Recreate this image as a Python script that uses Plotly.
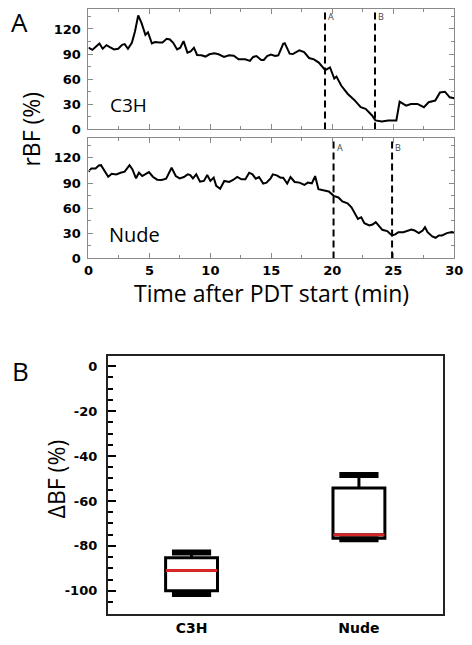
import plotly.graph_objects as go

# ---------------- data ----------------
c3h_t = [0, 0.32, 0.58, 0.9, 1.17, 1.48, 1.75, 2.1, 2.44, 2.76,
         2.97, 3.24, 3.56, 3.82, 4.08, 4.35, 4.67, 4.88, 5.2, 5.46,
         5.81, 6.07, 6.42, 6.68, 6.95, 7.27, 7.53, 7.8, 8.12, 8.38,
         8.65, 8.91, 9.26, 9.6, 9.92, 10.32, 10.67, 11.12, 11.52, 11.92,
         12.31, 12.85, 13.24, 13.51, 13.78, 14.17, 14.38, 14.65, 14.97,
         15.31, 15.57, 15.97, 16.1, 16.5, 16.76, 17.29, 17.69, 18.09, 18.49,
         18.89, 19.42, 19.81, 20.16, 20.34, 20.74, 21.27, 21.8, 22.33, 22.73,
         23.26, 23.53, 24.06, 24.59, 25.25, 25.52, 26.05, 26.45, 26.98, 27.51,
         27.9, 28.44, 28.83, 29.23, 29.63, 30]
c3h_v = [97.6, 95.0, 98.4, 102.7, 96.4, 100.7, 98.4, 95.6, 96.4, 101.1,
         101.9, 96.4, 103.5, 117.3, 136.3, 127.2, 113.0, 116.1, 102.7, 104.3,
         103.9, 103.9, 108.2, 107.5, 103.5, 95.6, 97.6, 105.5, 91.7, 93.3,
         97.6, 88.9, 88.5, 87.0, 89.7, 90.9, 89.7, 86.6, 88.5, 88.1,
         83.8, 83.8, 81.8, 86.6, 87.7, 83.0, 83.0, 87.7, 89.3,
         87.7, 88.5, 102.3, 103.0, 90.5, 90.0, 94.4, 92.4, 85.3, 83.7,
         79.8, 70.7, 74.0, 60.8, 63.2, 52.1, 42.3, 35.2, 26.5, 24.5,
         16.6, 10.7, 9.5, 10.7, 10.7, 33.2, 28.4, 30.4, 30.4, 26.5,
         32.4, 34.4, 44.2, 45.0, 38.3, 37.1]

nude_t = [0, 0.24, 0.58, 0.85, 1.03, 1.3, 1.62, 1.91, 2.28, 2.63,
          2.97, 3.37, 3.61, 3.9, 4.14, 4.41, 4.75, 4.96, 5.3, 5.64,
          6.0, 6.37, 6.82, 7.16, 7.48, 7.83, 8.14, 8.35, 8.57, 8.84,
          9.15, 9.47, 9.74, 10.0, 10.27, 10.48, 10.8, 11.14, 11.54, 11.86,
          12.2, 12.55, 12.87, 13.18, 13.45, 13.72, 13.99, 14.33, 14.6, 14.94,
          15.12, 15.44, 15.76, 15.97, 16.3, 16.57, 16.91, 17.31, 17.71, 17.98,
          18.32, 18.59, 18.86, 19.31, 19.71, 20.11, 20.5, 20.82, 21.25, 21.57,
          21.89, 22.1, 22.37, 22.63, 23.03, 23.3, 23.56, 23.83, 24.1, 24.5,
          24.89, 25.16, 25.42, 25.82, 26.14, 26.48, 26.74, 27.09, 27.41, 27.6,
          27.81, 28.2, 28.47, 28.74, 29.0, 29.4, 29.8, 30.0]
nude_v = [103.5, 107.4, 107.4, 110.9, 111.3, 104.3, 97.6, 101.1, 100.3, 102.3,
          103.5, 111.3, 106.2, 95.6, 102.3, 98.4, 101.1, 103.1, 97.2, 94.0,
          93.6, 95.2, 108.2, 98.4, 95.6, 97.2, 100.3, 99.5, 95.6, 100.3,
          91.7, 92.5, 99.5, 92.5, 96.4, 86.6, 83.1, 92.5, 91.3, 93.6,
          97.2, 94.4, 94.4, 102.3, 100.3, 95.2, 97.2, 89.3, 90.5, 95.6,
          100.3, 99.2, 96.4, 96.4, 89.3, 97.2, 91.3, 90.5, 87.7, 90.5,
          89.7, 98.3, 82.6, 81.4, 79.9, 74.7, 72.8, 68.1, 65.7, 61.0,
          53.1, 47.2, 49.2, 42.1, 39.3, 40.5, 43.3, 39.3, 34.2, 32.6,
          27.5, 28.7, 31.4, 31.4, 33.4, 34.6, 33.4, 30.2, 33.4, 37.3,
          31.4, 26.3, 24.7, 27.5, 27.5, 30.2, 31.4, 30.6]

c3h_marks = [19.4, 23.5]     # A, B
nude_marks = [20.1, 24.9]    # A, B
mark_labels = ["A", "B"]

x_ticks = [0, 5, 10, 15, 20, 25, 30]
y_ticks_top = [0, 30, 60, 90, 120]

box_groups = ["C3H", "Nude"]
box_pos = [0, 1]
box_q1 = [-100.0, -76.6]
box_median = [-91.0, -75.0]
box_q3 = [-85.3, -54.2]
box_low = [-101.4, -77.0]
box_high = [-82.9, -48.5]
y_ticks_box = [0, -20, -40, -60, -80, -100]


def bold(vals):
    return ["<b>%s</b>" % v for v in vals]


# ---------------- figure ----------------
W, H = 472, 645
fig = go.Figure()

fig.add_trace(go.Scatter(x=c3h_t, y=c3h_v, mode="lines",
                         line=dict(color="black", width=2), xaxis="x", yaxis="y"))
fig.add_trace(go.Scatter(x=nude_t, y=nude_v, mode="lines",
                         line=dict(color="black", width=2), xaxis="x2", yaxis="y2"))

YMAX = 144
for m in c3h_marks:
    fig.add_trace(go.Scatter(x=[m, m], y=[0, YMAX], mode="lines",
                             line=dict(color="black", width=2, dash="7px,4px"),
                             xaxis="x", yaxis="y"))
for m in nude_marks:
    fig.add_trace(go.Scatter(x=[m, m], y=[0, YMAX], mode="lines",
                             line=dict(color="black", width=2, dash="7px,4px"),
                             xaxis="x2", yaxis="y2"))

annotations = []
for m, lab in zip(c3h_marks, mark_labels):
    annotations.append(dict(x=m, y=134.5, xref="x", yref="y", text=lab, showarrow=False,
                            xanchor="left", xshift=1, font=dict(size=9, color="#444",
                                                                family="Open Sans")))
for m, lab in zip(nude_marks, mark_labels):
    annotations.append(dict(x=m, y=132, xref="x2", yref="y2", text=lab, showarrow=False,
                            xanchor="left", xshift=1, font=dict(size=9, color="#444",
                                                                family="Open Sans")))

# box plot
for i in range(len(box_groups)):
    fig.add_trace(go.Box(x=[box_pos[i]], q1=[box_q1[i]], median=[box_median[i]],
                         q3=[box_q3[i]], lowerfence=[box_low[i]], upperfence=[box_high[i]],
                         width=0.31, whiskerwidth=0, fillcolor="white",
                         line=dict(color="black", width=3), xaxis="x3", yaxis="y3",
                         hoverinfo="skip"))
    cw = 0.117
    for val in (box_low[i], box_high[i]):
        fig.add_trace(go.Scatter(x=[box_pos[i] - cw, box_pos[i] + cw], y=[val, val],
                                 mode="lines", line=dict(color="black", width=6),
                                 xaxis="x3", yaxis="y3"))
    mw = 0.153
    fig.add_trace(go.Scatter(x=[box_pos[i] - mw, box_pos[i] + mw],
                             y=[box_median[i], box_median[i]], mode="lines",
                             line=dict(color="#d62728", width=3), xaxis="x3", yaxis="y3"))

tickfont = dict(family="DejaVu Sans", size=13, color="black")
frame = "#8a8a8a"

xd = [86 / W, 463 / W]
common_x = dict(range=[0, 30], tickvals=x_ticks, ticktext=bold(x_ticks),
                ticks="inside", ticklen=5, tickcolor=frame,
                minor=dict(dtick=2.5, ticks="inside", ticklen=3, tickcolor=frame),
                showline=True, linecolor=frame, linewidth=1, mirror="ticks",
                showgrid=False, zeroline=False, tickfont=tickfont, domain=xd,
                ticklabeloverflow="allow")
common_y = dict(range=[0, YMAX], tickvals=y_ticks_top, ticktext=bold(y_ticks_top),
                ticks="inside", ticklen=5, tickcolor=frame,
                minor=dict(dtick=15, ticks="inside", ticklen=3, tickcolor=frame),
                showline=True, linecolor=frame, linewidth=1, mirror="ticks",
                showgrid=False, zeroline=False, tickfont=tickfont, ticklabelstandoff=4)

fig.update_layout(
    width=W, height=H, margin=dict(l=0, r=0, t=0, b=0),
    paper_bgcolor="white", plot_bgcolor="white", showlegend=False,
    xaxis=dict(**common_x, anchor="y", showticklabels=False),
    yaxis=dict(**common_y, anchor="x", domain=[1 - 131 / H, 1 - 9 / H]),
    xaxis2=dict(**common_x, anchor="y2", showticklabels=True),
    yaxis2=dict(**common_y, anchor="x2", domain=[1 - 261.7 / H, 1 - 139.5 / H]),
    xaxis3=dict(range=[-0.5, 1.5], tickvals=box_pos, ticktext=bold(box_groups), ticks="",
                showline=True, linecolor="#222", linewidth=2, mirror=True,
                showgrid=False, zeroline=False,
                tickfont=dict(family="DejaVu Sans", size=14, color="black"),
                domain=[106 / W, 451 / W], anchor="y3"),
    yaxis3=dict(range=[-110.3, 4.7], tickvals=y_ticks_box, ticktext=bold(y_ticks_box),
                ticks="inside", ticklen=8, tickwidth=2, tickcolor="black",
                minor=dict(dtick=5, ticks="inside", ticklen=5, tickwidth=2,
                           tickcolor="black"),
                showline=True, linecolor="#222", linewidth=2, mirror=True,
                showgrid=False, zeroline=False, tickfont=tickfont, ticklabelstandoff=6,
                domain=[1 - 621.7 / H, 1 - 360 / H], anchor="x3"),
)

title_font = dict(family="Open Sans", size=23, color="black")
annotations += [
    dict(text="A", x=4 / W, y=1 - 2 / H, xref="paper", yref="paper", xanchor="left",
         yanchor="top", showarrow=False, font=dict(family="Open Sans", size=26, color="black")),
    dict(text="B", x=5 / W, y=1 - 355 / H, xref="paper", yref="paper", xanchor="left",
         yanchor="top", showarrow=False, font=dict(family="Open Sans", size=26, color="black")),
    dict(text="C3H", x=106 / W, y=1 - 106 / H, xref="paper", yref="paper", xanchor="left",
         yanchor="middle", showarrow=False, font=dict(family="Open Sans", size=19, color="black")),
    dict(text="Nude", x=105 / W, y=1 - 237 / H, xref="paper", yref="paper", xanchor="left",
         yanchor="middle", showarrow=False, font=dict(family="Open Sans", size=20, color="black")),
    dict(text="rBF (%)", x=27 / W, y=1 - 131 / H, xref="paper", yref="paper",
         xanchor="center", yanchor="middle",
         textangle=-90, showarrow=False, font=title_font),
    dict(text="Time after PDT start (min)", x=275 / W, y=1 - 297 / H, xref="paper",
         yref="paper", xanchor="center", yanchor="middle", showarrow=False, font=title_font),
    dict(text="ΔBF (%)", x=53 / W, y=1 - 485 / H, xref="paper", yref="paper",
         xanchor="center", yanchor="middle",
         textangle=-90, showarrow=False, font=title_font),
]
fig.update_layout(annotations=annotations)

fig.write_html("out.html", config={"displayModeBar": False},
               post_script="document.body.style.margin='0px';")
